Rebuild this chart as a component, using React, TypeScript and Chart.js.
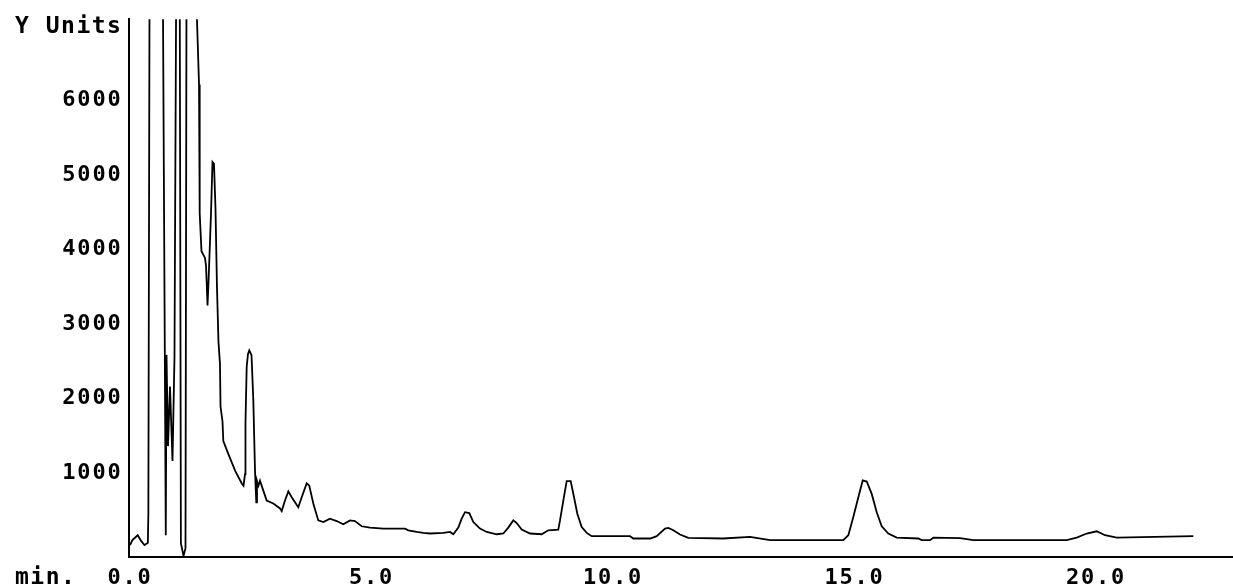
import React, { useEffect, useRef } from "react";
import { Chart, registerables } from "chart.js";

Chart.register(...registerables);

// Retention time (min)
const times = [
  0.0, 0.05, 0.16, 0.23, 0.3, 0.37, 0.38, 0.41, 0.683, 0.741, 0.756, 0.787, 0.828, 0.88, 0.921,
  0.967, 1.025, 1.054, 1.108, 1.149, 1.174, 1.284, 1.381, 1.429, 1.443, 1.48, 1.553, 1.574, 1.605,
  1.625, 1.677, 1.708, 1.739, 1.77, 1.801, 1.832, 1.863, 1.874, 1.915, 1.932, 2.039, 2.178, 2.317,
  2.35, 2.381, 2.391, 2.416, 2.443, 2.47, 2.516, 2.553, 2.588, 2.615, 2.629, 2.66, 2.692, 2.76,
  2.83, 2.967, 3.106, 3.141, 3.209, 3.278, 3.348, 3.484, 3.555, 3.658, 3.712, 3.795, 3.898, 4.002,
  4.141, 4.28, 4.416, 4.555, 4.658, 4.797, 4.969, 5.244, 5.694, 5.762, 5.936, 6.073, 6.211, 6.487,
  6.625, 6.694, 6.797, 6.867, 6.936, 7.025, 7.108, 7.246, 7.385, 7.592, 7.729, 7.832, 7.936, 8.006,
  8.11, 8.282, 8.524, 8.66, 8.867, 8.903, 8.971, 9.041, 9.124, 9.193, 9.261, 9.352, 9.456, 9.559,
  10.352, 10.42, 10.77, 10.905, 11.077, 11.145, 11.249, 11.387, 11.559, 12.284, 12.836, 13.251,
  14.768, 14.872, 14.975, 15.079, 15.17, 15.253, 15.356, 15.46, 15.563, 15.7, 15.874, 16.321,
  16.391, 16.563, 16.632, 17.184, 17.46, 19.393, 19.6, 19.807, 20.014, 20.186, 20.429, 22.015,
];

// Detector signal (Y Units)
const signal = [
  37, 104, 170, 94, 37, 68, 458, 9000, 7200, 170, 2588, 1365, 2163, 1166, 2560,
  9000, 9000, 64, -109, -3, 9000, 9000, 7200, 6212, 4483, 3979, 3888, 3782, 3251,
  3556, 4483, 5175, 5149, 4551, 3489, 2759, 2467, 1896, 1697, 1431, 1255, 1033, 861,
  834, 989, 1675, 2428, 2600, 2649, 2583, 1985, 1033, 612, 900, 834, 900, 768,
  635, 595, 529, 493, 635, 758, 679, 546, 679, 865, 834, 595, 369, 347,
  392, 360, 316, 369, 360, 290, 272, 259, 259, 236, 214, 201, 193, 201,
  214, 183, 272, 392, 479, 466, 347, 259, 214, 183, 193, 272, 369, 333,
  246, 193, 183, 236, 246, 369, 635, 895, 895, 679, 458, 280, 201, 157,
  157, 126, 126, 157, 259, 267, 236, 179, 134, 126, 147, 104,
  104, 170, 413, 679, 905, 890, 724, 479, 290, 193, 139, 126,
  104, 104, 137, 130, 104, 104, 139, 193, 223, 170, 139, 157,
];

const xTicks = [0, 5, 10, 15, 20];
const yTicks = [1000, 2000, 3000, 4000, 5000, 6000];

const FONT_FAMILY = "'DejaVu Sans Mono', monospace";

const textPlugin = {
  id: "oldStyleText",
  beforeDraw(chart: any) {
    const ctx = chart.ctx as any;
    ctx.letterSpacing = "1.8px";
  },
  afterDraw(chart: any) {
    const ctx = chart.ctx as any;
    ctx.save();
    ctx.letterSpacing = "1.5px";
    ctx.fillStyle = "#000";
    ctx.font = `bold 23px ${FONT_FAMILY}`;
    ctx.textAlign = "left";
    ctx.textBaseline = "alphabetic";
    ctx.fillText("Y Units", 15, 33);
    ctx.fillText("min.", 15, 584);
    ctx.restore();
  },
};

export default function App() {
  const ref = useRef<HTMLCanvasElement | null>(null);

  useEffect(() => {
    if (!ref.current) return;
    const data = times.map((t, i) => ({ x: t, y: signal[i] }));
    const chart = new Chart(ref.current, {
      type: "line",
      data: {
        datasets: [
          {
            data,
            borderColor: "#000",
            borderWidth: 1.8,
            pointRadius: 0,
            tension: 0,
            fill: false,
          },
        ],
      },
      plugins: [textPlugin],
      options: {
        animation: false,
        responsive: false,
        devicePixelRatio: 1,
        layout: { padding: { top: 14, left: 0, right: 0, bottom: 0 } },
        plugins: {
          legend: { display: false },
          tooltip: { enabled: false },
          title: { display: false },
        },
        scales: {
          x: {
            type: "linear",
            min: -0.031,
            max: 22.836,
            grid: { display: false, drawTicks: false },
            border: { display: true, color: "#000", width: 2 },
            afterBuildTicks: (s: any) => {
              s.ticks = xTicks.map((v) => ({ value: v }));
            },
            afterFit: (s: any) => {
              s.height = 31;
            },
            ticks: {
              autoSkip: false,
              maxRotation: 0,
              padding: 8,
              color: "#000",
              font: { family: FONT_FAMILY, size: 22, weight: "bold" },
              callback: (v: any) => Number(v).toFixed(1),
            },
          },
          y: {
            type: "linear",
            min: -122,
            max: 7089,
            grid: { display: false, drawTicks: false },
            border: { display: true, color: "#000", width: 2 },
            afterBuildTicks: (s: any) => {
              s.ticks = yTicks.map((v) => ({ value: v }));
            },
            afterFit: (s: any) => {
              s.width = 128.5;
            },
            ticks: {
              padding: 6,
              color: "#000",
              font: { family: FONT_FAMILY, size: 22, weight: "bold" },
              callback: (v: any) => String(v),
            },
          },
        },
      },
    });
    return () => chart.destroy();
  }, []);

  return (
    <div style={{ position: "fixed", left: 0, top: 0, width: 1233, height: 588, background: "#fff" }}>
      <canvas ref={ref} width={1233} height={588} style={{ display: "block" }} />
    </div>
  );
}
